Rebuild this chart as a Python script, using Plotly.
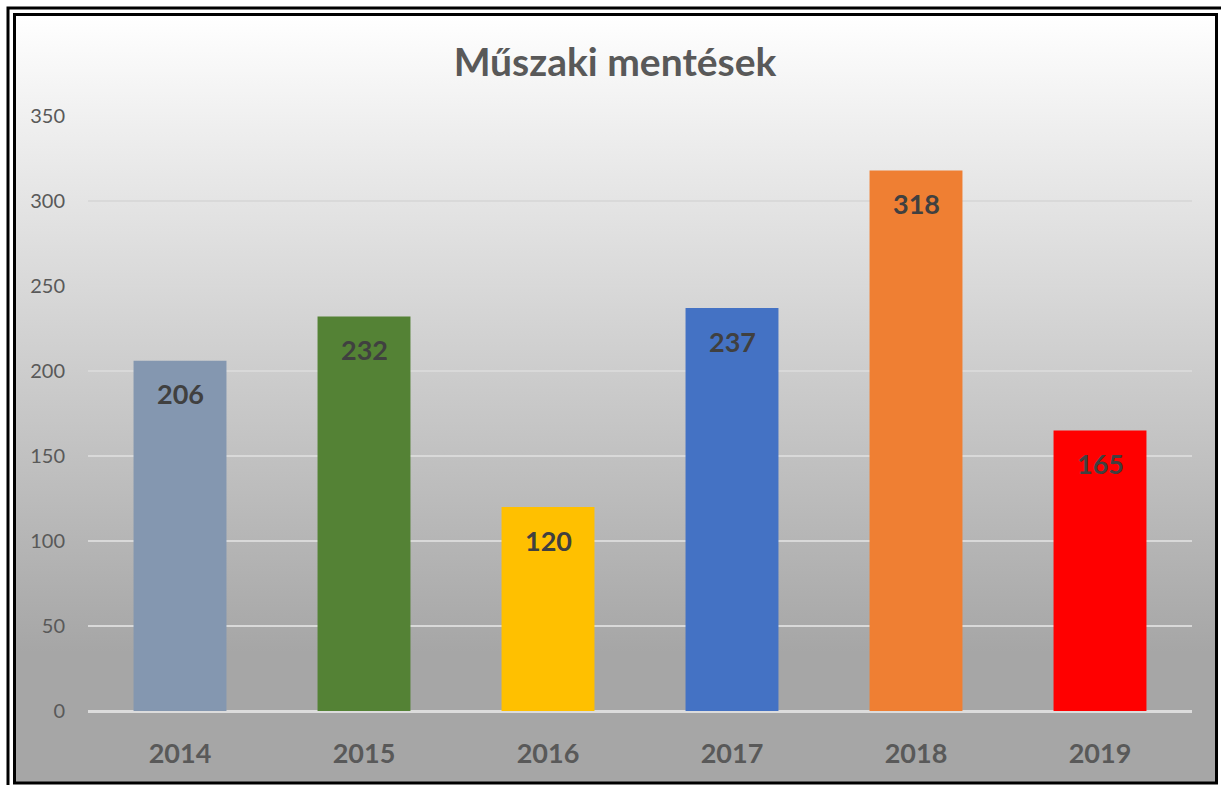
import base64

import plotly.graph_objects as go

# ── Data ──────────────────────────────────────────────────────────────────────
years = ["2014", "2015", "2016", "2017", "2018", "2019"]
rescues = [206, 232, 120, 237, 318, 165]
bar_colors = ["#8497B0", "#548235", "#FFC000", "#4472C4", "#EF7F33", "#FF0000"]

TITLE = "Műszaki mentések"
Y_TICKS = [0, 50, 100, 150, 200, 250, 300, 350]

_W, _H = 1221, 785
_L, _R, _T, _B = 88, 29, 116, 74
_FONT = "Lato, 'Open Sans', sans-serif"
_TEXT_GREY = "#595959"


def _px(x, y):
    """Pixel position -> paper fraction (paper = plot area)."""
    pw = _W - _L - _R
    ph = _H - _T - _B
    return (x - _L) / pw, 1 - (y - _T) / ph


def _gradient_uri() -> str:
    svg = (
        '<svg xmlns="http://www.w3.org/2000/svg" width="100" height="100" '
        'preserveAspectRatio="none">'
        '<defs><linearGradient id="g" x1="0" y1="0" x2="0" y2="1">'
        '<stop offset="0" stop-color="#FFFFFF"/>'
        '<stop offset="0.15" stop-color="#EEEEEE"/>'
        '<stop offset="0.83" stop-color="#A6A6A6"/>'
        '<stop offset="1" stop-color="#A6A6A6"/>'
        '</linearGradient></defs>'
        '<rect width="100" height="100" fill="url(#g)"/></svg>'
    )
    return "data:image/svg+xml;base64," + base64.b64encode(svg.encode()).decode()


fig = go.Figure(
    go.Bar(
        x=years,
        y=rescues,
        marker=dict(color=bar_colors, line=dict(width=0)),
        hoverinfo="x+y",
    )
)

# value labels inside the top of each bar
# (category axis: numeric-looking strings get read as indices, so pass the index)
for i, val in enumerate(rescues):
    fig.add_annotation(
        x=i, y=val, yshift=-33, yanchor="middle", showarrow=False,
        text=str(val),
        font=dict(family=_FONT, size=27, color="#404040", weight="bold"),
    )

# gradient panel behind the chart
x0, y0 = _px(16, 16)
x1, y1 = _px(1215, 782)
fig.add_layout_image(
    source=_gradient_uri(), xref="paper", yref="paper",
    x=x0, y=y0, sizex=x1 - x0, sizey=y0 - y1,
    xanchor="left", yanchor="top", sizing="stretch", layer="below",
)

# double black frame
for (ax, ay, bx, by, w) in [(8, 8, 1224, 788, 3), (14.5, 14.5, 1216.5, 783, 3)]:
    fx0, fy0 = _px(ax, ay)
    fx1, fy1 = _px(bx, by)
    fig.add_shape(
        type="rect", xref="paper", yref="paper",
        x0=fx0, y0=fy0, x1=fx1, y1=fy1,
        line=dict(color="#000000", width=w), fillcolor="rgba(0,0,0,0)",
        layer="above",
    )

fig.update_layout(
    width=_W,
    height=_H,
    margin=dict(l=_L, r=_R, t=_T, b=_B),
    paper_bgcolor="#FFFFFF",
    plot_bgcolor="rgba(0,0,0,0)",
    showlegend=False,
    bargap=0.495,
    title=dict(
        text=TITLE, x=615 / _W, y=1 - 62 / _H, xanchor="center", yanchor="middle",
        xref="container", yref="container",
        font=dict(family=_FONT, size=39, color=_TEXT_GREY, weight="bold"),
    ),
    xaxis=dict(
        type="category", range=[-0.5, len(years) - 0.5],
        showgrid=False, showline=False, ticks="",
        tickfont=dict(family=_FONT, size=27, color=_TEXT_GREY, weight="bold"),
        ticklabelstandoff=24,
    ),
    yaxis=dict(
        range=[0, 350], tickvals=Y_TICKS,
        showgrid=True, gridcolor="#D9D9D9", gridwidth=1.5,
        zeroline=True, zerolinecolor="#DCDCDC", zerolinewidth=2.5,
        showline=False, ticks="",
        tickfont=dict(family=_FONT, size=20, color=_TEXT_GREY),
        ticklabelstandoff=22,
    ),
)

# drop the default page margin so the figure sits at the window's corner
fig.write_html(
    "out.html",
    config={"displayModeBar": False},
    post_script="document.body.style.margin = '0';",
)
